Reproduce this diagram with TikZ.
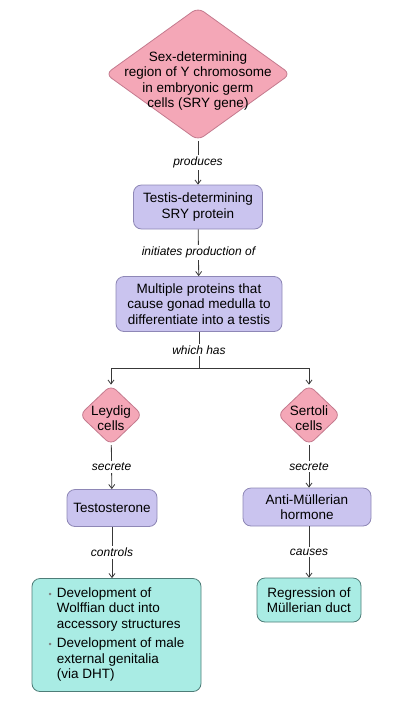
\documentclass[tikz,border=0pt]{standalone}
\usepackage{fontspec}
\setmainfont{Liberation Sans}
\usepackage{xcolor}
\usetikzlibrary{shapes.geometric,arrows.meta}

\definecolor{genepink}{HTML}{F4A7B7}
\definecolor{geneedge}{HTML}{C47A8E}
\definecolor{protlilac}{HTML}{CAC4EF}
\definecolor{protedge}{HTML}{8E87B6}
\definecolor{effteal}{HTML}{A9ECE4}
\definecolor{effedge}{HTML}{4E7D78}
\definecolor{linkgray}{HTML}{383838}

\begin{document}
\begin{tikzpicture}[x=1pt, y=-1pt,
	gene/.style={diamond, draw=geneedge, fill=genepink, line width=0.8, rounded corners=7, inner sep=0, align=center, font=\fontsize{13.5}{15.5}\selectfont},
	genetext/.style={align=center, inner sep=0, font=\fontsize{13.5}{15.5}\selectfont},
	prot/.style={rectangle, draw=protedge, fill=protlilac, line width=0.8, rounded corners=8, inner sep=0, align=center, font=\fontsize{13.5}{15.5}\selectfont},
	eff/.style={rectangle, draw=effedge, fill=effteal, line width=0.8, rounded corners=8, inner sep=0, align=center, font=\fontsize{13.5}{15.5}\selectfont},
	lbl/.style={fill=white, inner sep=2, font=\itshape\fontsize{12}{14}\selectfont},
	link/.style={draw=linkgray, line width=0.8},
	>={Straight Barb[length=4pt, width=6pt]}]

\useasboundingbox (0,0) rectangle (400,705);

% top of the chain
\node[gene, minimum width=185, minimum height=133,
	label={[genetext, yshift=-7pt]center:{Sex-determining\\region of Y chromosome\\in embryonic germ\\cells (SRY gene)}}] (sry) at (198,74) {};
\node[prot, minimum width=129, minimum height=44] (srypro) at (198,207) {Testis-determining\\SRY protein};
\node[prot, minimum width=166, minimum height=55] (multi) at (199,304) {Multiple proteins that\\cause gonad medulla to\\differentiate into a testis};

\coordinate (split) at (199,368);

% the two cell types
\node[gene, minimum width=63, minimum height=60,
	label={[genetext, yshift=-3pt]center:{Leydig\\cells}}] (leydig) at (111,415) {};
\node[gene, minimum width=63, minimum height=60,
	label={[genetext, yshift=-3pt]center:{Sertoli\\cells}}] (sertoli) at (309,415) {};

\node[prot, minimum width=90, minimum height=37] (testo) at (112,508) {Testosterone};
\node[prot, minimum width=128, minimum height=38] (amh) at (307,507) {Anti-Müllerian\\hormone};

\node[eff, minimum width=169, minimum height=113, align=left] (wolff) at (116.5,635) {%
	\begin{tabular}{@{}l@{\hspace{5pt}}l@{}}
	\textcolor{gray}{\small\textbullet} & Development of\\
	 & Wolffian duct into\\
	 & accessory structures\\[4pt]
	\textcolor{gray}{\small\textbullet} & Development of male\\
	 & external genitalia\\
	 & (via DHT)
	\end{tabular}};
\node[eff, minimum width=104, minimum height=44] (regr) at (309,600) {Regression of\\Müllerian duct};

% connectors
\draw[link, ->] (sry) -- node[lbl] {produces} (srypro);
\draw[link, ->] (srypro) -- node[lbl] {initiates production of} (multi);
\draw[link] (multi) -- node[lbl] {which has} (split);
\draw[link, ->] (split) -| (leydig);
\draw[link, ->] (split) -| (sertoli);

\draw[link, ->] (leydig) -- node[lbl] {secrete} (testo);
\draw[link, ->] (sertoli) -- node[lbl] {secrete} (sertoli |- amh.north);
\draw[link, ->] (testo) -- node[lbl] {controls} (testo |- wolff.north);
\draw[link, ->] (regr |- amh.south) -- node[lbl] {causes} (regr);

\end{tikzpicture}
\end{document}
